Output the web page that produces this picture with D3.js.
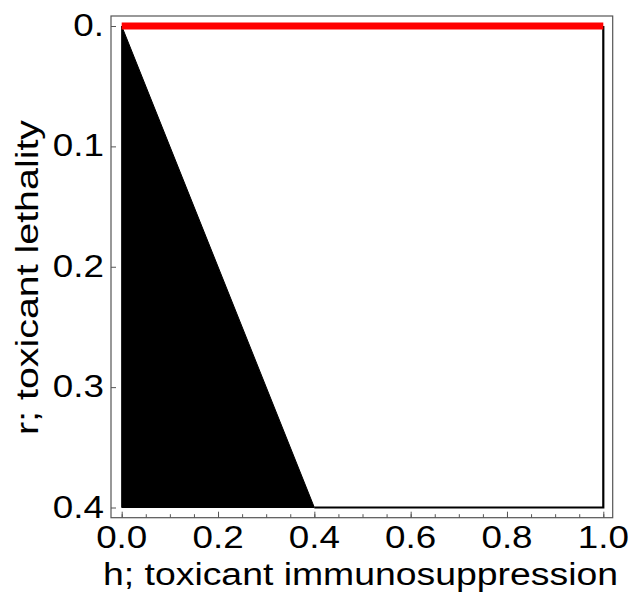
<!DOCTYPE html>
<html lang="en">
  <head>
    <meta charset="utf-8">
    <title>Toxicant region</title>
    <script src="https://d3js.org/d3.v7.min.js"></script>
    <style>
      body { margin: 0; background: #fff; }
      text { font-family: "Liberation Sans", Arial, sans-serif; fill: #000; }
    </style>
  </head>
  <body>
    <div id="chart"></div>
    <script>
      // data
      var regionH = [0, 0.4, 0];          // black region corners, h
      var regionR = [0, 0.4, 0.4];        // black region corners, r
      var redH = [0, 1];                  // red line along r = 0
      var redR = [0, 0];
      var edgeH = [0.4, 1, 1];            // black boundary, bottom then right side
      var edgeR = [0.4, 0.4, 0];
      var xTicks = [0, 0.2, 0.4, 0.6, 0.8, 1.0];
      var xTickLabels = ["0.0", "0.2", "0.4", "0.6", "0.8", "1.0"];
      var xMinor = d3.range(0, 1.0001, 0.05);
      var yTicks = [0, 0.1, 0.2, 0.3, 0.4];
      var yTickLabels = ["0.", "0.1", "0.2", "0.3", "0.4"];

      var width = 630, height = 601;

      var svg = d3.select("#chart").append("svg")
          .attr("width", width)
          .attr("height", height);

      var x = d3.scaleLinear().domain([0, 1]).range([121.7, 603.3]);
      var y = d3.scaleLinear().domain([0, 0.4]).range([26, 507.5]);

      // frame
      var frame = {left: 111, right: 612.7, top: 16, bottom: 517.7};
      svg.append("rect")
          .attr("x", frame.left)
          .attr("y", frame.top)
          .attr("width", frame.right - frame.left)
          .attr("height", frame.bottom - frame.top)
          .attr("fill", "none")
          .attr("stroke", "#555")
          .attr("stroke-width", 1.2);

      // black region
      var pts = regionH.map(function(h, i) { return [x(h), y(regionR[i])]; });
      svg.append("path")
          .attr("d", d3.line()(pts) + "Z")
          .attr("fill", "#000")
          .attr("stroke", "#000")
          .attr("stroke-width", 1);

      // boundary lines
      var edge = edgeH.map(function(h, i) { return [x(h), y(edgeR[i])]; });
      svg.append("path")
          .attr("d", d3.line()(edge))
          .attr("fill", "none")
          .attr("stroke", "#000")
          .attr("stroke-width", 2.2);

      var red = redH.map(function(h, i) { return [x(h), y(redR[i])]; });
      svg.append("path")
          .attr("d", d3.line()(red))
          .attr("fill", "none")
          .attr("stroke", "#ff0000")
          .attr("stroke-width", 7);

      // bottom axis, ticks point inward
      var xAxis = d3.axisBottom(x).tickValues(xTicks).tickSize(-6).tickFormat("");
      svg.append("g")
          .attr("transform", "translate(0," + frame.bottom + ")")
          .call(xAxis)
          .call(function(g) { g.select(".domain").remove(); })
          .selectAll("line").attr("stroke", "#555");

      var xAxisMinor = d3.axisBottom(x).tickValues(xMinor).tickSize(-3.5).tickFormat("");
      svg.append("g")
          .attr("transform", "translate(0," + frame.bottom + ")")
          .call(xAxisMinor)
          .call(function(g) { g.select(".domain").remove(); })
          .selectAll("line").attr("stroke", "#555");

      var yAxis = d3.axisLeft(y).tickValues(yTicks).tickSize(-5).tickFormat("");
      svg.append("g")
          .attr("transform", "translate(" + frame.left + ",0)")
          .call(yAxis)
          .call(function(g) { g.select(".domain").remove(); })
          .selectAll("line").attr("stroke", "#555");

      // tick labels
      svg.selectAll(".xlab")
          .data(xTicks)
          .enter()
          .append("text")
          .attr("class", "xlab")
          .attr("text-anchor", "middle")
          .attr("font-size", 32)
          .attr("transform", function(d) { return "translate(" + x(d) + ",548) scale(1.15,1)"; })
          .text(function(d, i) { return xTickLabels[i]; });

      svg.selectAll(".ylab")
          .data(yTicks)
          .enter()
          .append("text")
          .attr("class", "ylab")
          .attr("text-anchor", "end")
          .attr("font-size", 32)
          .attr("transform", function(d) { return "translate(104," + (y(d) + 10) + ") scale(1.15,1)"; })
          .text(function(d, i) { return yTickLabels[i]; });

      // axis titles
      svg.append("text")
          .attr("x", 360.5)
          .attr("y", 585)
          .attr("text-anchor", "middle")
          .attr("font-size", 31)
          .attr("textLength", 515)
          .attr("lengthAdjust", "spacingAndGlyphs")
          .text("h; toxicant immunosuppression");

      svg.append("text")
          .attr("transform", "translate(38,277.5) rotate(-90)")
          .attr("text-anchor", "middle")
          .attr("font-size", 31)
          .attr("textLength", 315)
          .attr("lengthAdjust", "spacingAndGlyphs")
          .text("r; toxicant lethality");
    </script>
  </body>
</html>
